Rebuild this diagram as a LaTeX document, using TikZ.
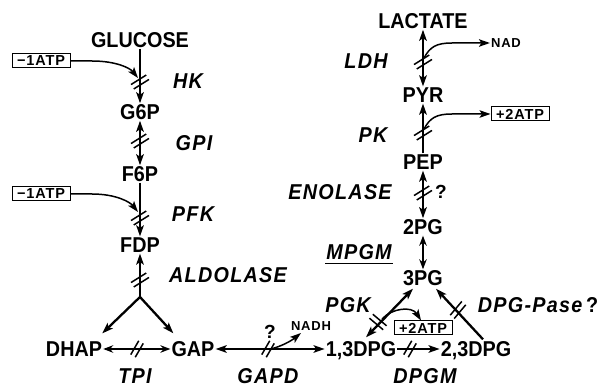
\documentclass[tikz,border=0pt]{standalone}
\usepackage{fontspec}
\setmainfont{Liberation Sans}
\usetikzlibrary{arrows.meta,calc}
\begin{document}
\begin{tikzpicture}[x=1pt,y=1pt,
  lab/.style={font=\fontsize{21.5}{23}\selectfont\bfseries\addfontfeature{FakeStretch=0.92}, inner sep=1pt, text depth=0pt},
  enz/.style={font=\fontsize{21.5}{23}\selectfont\bfseries\itshape\addfontfeature{FakeStretch=0.92,LetterSpace=6}, inner sep=1pt, text depth=0pt},
  qm/.style={font=\fontsize{19}{20}\selectfont\bfseries, inner sep=1pt},
  atpbox/.style={draw, line width=1pt, font=\fontsize{14.5}{15}\selectfont\bfseries\addfontfeature{LetterSpace=6}, inner sep=0.5pt, minimum width=58pt, minimum height=14pt},
  small/.style={font=\fontsize{13}{14}\selectfont\bfseries\addfontfeature{LetterSpace=6}, inner sep=1pt},
  conn/.style={line width=2.3pt},
  thin/.style={line width=1.5pt},
  >={Stealth[length=11pt,width=7.5pt,inset=2.5pt]},
  op/.style={{Stealth[open,length=10pt,width=7.5pt]}-{Stealth[open,length=10pt,width=7.5pt]}},
  sl/.pic={\draw[line width=1.5pt] (-9,2.6)--(9,2.6) (-9,-2.6)--(9,-2.6);},
  hs/.pic={\draw[line width=1.5pt] (-8,2.6)--(8,2.6) (-8,-2.6)--(8,-2.6);}
]
\useasboundingbox (0,0) rectangle (606,-390);
% left column
\node[lab] (glucose) at (140,-40) {GLUCOSE};
\node[atpbox] (atp1) at (41,-61) {−1ATP};
\node[enz] (hk) at (188,-81) {HK};
\node[lab] (g6p) at (140,-112) {G6P};
\node[enz] (gpi) at (194,-143) {GPI};
\node[lab] (f6p) at (140,-174) {F6P};
\node[atpbox] (atp2) at (41,-194) {−1ATP};
\node[enz] (pfk) at (193,-214) {PFK};
\node[lab] (fdp) at (140,-245) {FDP};
\node[enz] (aldolase) at (228,-275) {ALDOLASE};
\coordinate (fork) at (140,-297);
\node[lab] (dhap) at (74,-349) {DHAP};
\node[lab] (gap) at (193,-349) {GAP};
\node[enz] (tpi) at (135,-376) {TPI};
\node[enz] (gapd) at (268,-376) {GAPD};
\node[qm] (q1) at (270,-332) {?};
\node[small] (nadh) at (311,-326) {NADH};
% bottom right
\node[lab] (dpg13) at (361,-349) {1,3DPG};
\node[lab] (dpg23) at (476,-349) {2,3DPG};
\node[enz] (dpgm) at (425,-376) {DPGM};
\node[atpbox] (atp4) at (423,-328) {+2ATP};
\node[enz] (pgk) at (348,-305) {PGK};
\node[enz] (dpgpase) at (538,-305) {DPG-Pase\,\upshape ?};
% right column
\node[lab] (pg3) at (423,-278) {3PG};
\node[enz] (mpgm) at (359,-252) {MPGM};
\node[lab] (pg2) at (423,-227) {2PG};
\node[enz] (enolase) at (340,-192) {ENOLASE};
\node[qm] (q2) at (441,-192) {?};
\node[lab] (pep) at (423,-162) {PEP};
\node[enz] (pk) at (373,-135) {PK};
\node[atpbox] (atp3) at (520,-114) {+2ATP};
\node[lab] (pyr) at (423,-95) {PYR};
\node[enz] (ldh) at (366,-61) {LDH};
\node[small] (nad) at (506,-43) {NAD};
\node[lab] (lactate) at (423,-21) {LACTATE};
% underline MPGM
\draw[thin] ([yshift=-3pt]mpgm.south west) -- ([yshift=-3pt]mpgm.south east);
% main connectors
\draw[conn,->] (glucose) -- (g6p);
\draw[conn,<->] (g6p) -- (f6p);
\draw[conn,->] (f6p) -- (fdp);
\draw[conn,->] (fork) -- (fdp);
\draw[conn,->] (fork) -- ([xshift=-1pt,yshift=7pt]dhap.north east);
\draw[conn,->] (fork) -- ([xshift=3pt,yshift=7pt]gap.north west);
\draw[conn,op] (dhap) -- (gap);
\draw[conn,<->] (gap) -- (dpg13);
\draw[conn,->] (dpg13) -- (dpg23);
\draw[conn,<->] ([xshift=5pt,yshift=3pt]dpg13.north) -- ([xshift=-10pt,yshift=-2pt]pg3.south);
\draw[conn,->] ([xshift=7pt,yshift=1pt]dpg23.north) -- ([xshift=13pt,yshift=-2pt]pg3.south);
\draw[thin,op] (pg2) -- (pg3);
\draw[conn,<->] (pep) -- (pg2);
\draw[conn,->] (pep) -- (pyr);
\draw[conn,<->] (pyr) -- (lactate);
% side curves
\coordinate (hkin) at (138,-78);
\draw[thin,->] (atp1.east) -- (92,-61) .. controls (116,-61) and (130,-68) .. (hkin);
\coordinate (pfkin) at (138,-212);
\draw[thin,->] (atp2.east) -- (92,-194) .. controls (116,-194) and (130,-202) .. (pfkin);
\coordinate (ldhout) at (424,-58);
\draw[thin,->] (ldhout) .. controls (430,-47) and (436,-43) .. (452,-43) -- (nad.west);
\coordinate (pkout) at (424,-129);
\draw[thin,->] (pkout) .. controls (430,-118) and (436,-114) .. (452,-114) -- (atp3.west);
\coordinate (gapdout) at (271,-349);
\coordinate (nadhtip) at (301,-333);
\draw[thin,->] (gapdout) .. controls (282,-346) and (291,-341) .. (nadhtip);
\coordinate (pgkout) at (382,-319);
\draw[thin,->] (pgkout) .. controls (392,-308) and (412,-306) .. ([xshift=-2pt]atp4.north);
% slash marks
\pic[rotate=32] at (140,-82) {sl};
\pic[rotate=32] at (140,-141) {sl};
\pic[rotate=32] at (140,-218) {sl};
\pic[rotate=32] at (140,-280) {sl};
\pic[rotate=60] at (137,-349) {hs};
\pic[rotate=60] at (268,-349) {hs};
\pic[rotate=60] at (410,-349) {hs};
\pic[rotate=-40] at (378,-322) {sl};
\pic[rotate=50] at (458,-310) {sl};
\pic[rotate=32] at (423,-193) {sl};
\pic[rotate=32] at (423,-133) {sl};
\pic[rotate=32] at (423,-62) {sl};
\end{tikzpicture}
\end{document}
